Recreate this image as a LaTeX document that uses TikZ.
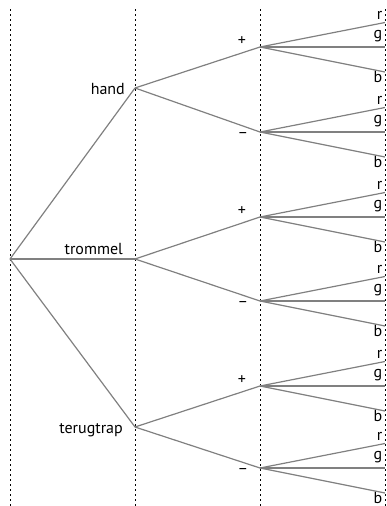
\documentclass[tikz,border=0pt]{standalone}
\usepackage{fontspec}
\setmainfont{PT Sans}
\begin{document}
\begin{tikzpicture}[x=1pt,y=-1pt,
  guide/.style={draw=black,line width=0.9pt,dash pattern=on 2.4pt off 2.6pt},
  branch/.style={draw=black!50,line width=1.2pt},
  lbl/.style={inner sep=0pt,font=\fontsize{16}{19}\selectfont,text=black}]
\useasboundingbox (0,0) rectangle (386,506);
\foreach \x in {10,135,260,385} \draw[guide] (\x,9) -- (\x,506);
\coordinate (root) at (10,259);
% level 1
\foreach \n/\y in {h/88,t/259,u/427} \coordinate (\n) at (135,\y);
\node[lbl,anchor=base east] (lh) at (125,94.5) {hand};
\node[lbl,anchor=base east] (lt) at (123,254) {trommel};
\node[lbl,anchor=base east] (lu) at (123,433) {terugtrap};
\foreach \n in {h,t,u} \draw[branch] (root) -- (\n);
% level 2
\foreach \p/\py/\my in {h/47/132,t/217/301,u/386/468}{
  \coordinate (\p p) at (260,\py);
  \coordinate (\p m) at (260,\my);
  \draw[branch] (\p) -- (\p p);
  \draw[branch] (\p) -- (\p m);
  \node[lbl] (\p pl) at (242,\py-6) {+};
  \node[lbl] (\p ml) at (243,\my+4) {−};
}
% leaves
\foreach \l/\y in {hp/47,hm/132,tp/217,tm/301,up/386,um/468}{
  \coordinate (\l r) at (385,\y-24.5);
  \coordinate (\l g) at (385,\y);
  \coordinate (\l b) at (385,\y+25);
  \draw[branch] (\l) -- (\l r);
  \draw[branch] (\l) -- (\l g);
  \draw[branch] (\l) -- (\l b);
  \node[lbl,anchor=base east] (\l rl) at (382.5,\y-27.5) {r};
  \node[lbl,anchor=base east] (\l gl) at (382.5,\y-8.5) {g};
  \node[lbl,anchor=base east] (\l bl) at (382.5,\y+35) {b};
}
\end{tikzpicture}
\end{document}
